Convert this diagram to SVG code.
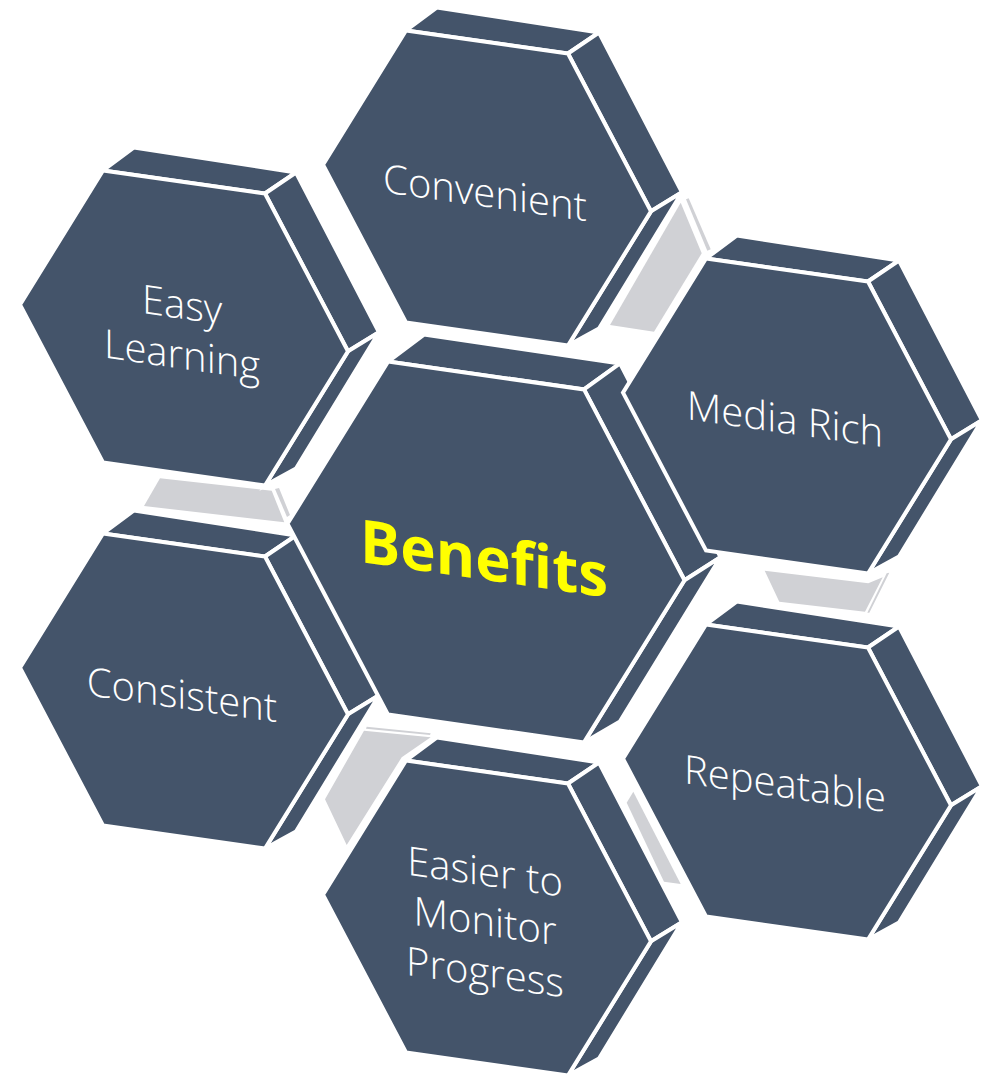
<svg xmlns="http://www.w3.org/2000/svg" width="987" height="1075" viewBox="0 0 987 1075">
<defs>
<style>
.face{fill:#44546A;stroke:#FFFFFF;stroke-width:4;stroke-linejoin:miter}
.gray{fill:#D0D1D5}
.lbl{font-family:"Open Sans","Noto Sans","DejaVu Sans",sans-serif;font-size:40px;font-weight:300;fill:#FFFFFF;text-anchor:middle}
.big{font-family:"Open Sans","Noto Sans","DejaVu Sans",sans-serif;font-size:60px;font-weight:bold;fill:#FFFF00;text-anchor:middle}
</style>
<g id="hexS">
<path class="face" d="M-81,-157.5 L81,-134.5 L112,-155.5 L-50,-180.5 Z"/>
<path class="face" d="M81,-134.5 L164,23.3 L195,4.3 L112,-155.5 Z"/>
<path class="face" d="M164,23.3 L81,157.5 L112,140.5 L195,4.3 Z"/>
<path class="face" d="M-81,-157.5 L81,-134.5 L164,23.3 L81,157.5 L-81,134.5 L-164,-23.3 Z"/>
</g>
<g id="hexL">
<path class="face" d="M-98,-190.4 L98,-162.6 L134,-188.6 L-62,-217.4 Z"/>
<path class="face" d="M98,-162.6 L198.5,28.2 L234.5,5.2 L134,-188.6 Z"/>
<path class="face" d="M198.5,28.2 L98,190.4 L134,169.4 L234.5,5.2 Z"/>
<path class="face" d="M-98,-190.4 L98,-162.6 L198.5,28.2 L98,190.4 L-98,162.6 L-198.5,-28.2 Z"/>
</g>
</defs>
<rect x="0" y="0" width="987" height="1075" fill="#FFFFFF"/>
<g id="connectors">
<polygon class="gray" points="680.7,202.7 610,325 654,331.7 701.7,253.3"/>
<polygon class="gray" points="686,199.3 688.7,198.3 710.7,249.3 707.3,250.7"/>
<polygon class="gray" points="764.7,570.7 779.3,601.7 865,611.7 882.7,577.3 868.3,583.3"/>
<polygon class="gray" points="886.7,573.3 889.3,572.7 869.3,612.7 867.3,612.7"/>
<polygon class="gray" points="633.3,791.7 626.7,802.7 664,881.7 680.7,884"/>
<polygon class="gray" points="364,730.7 430.7,737.3 401.7,757.3 346.7,845 325,799.3"/>
<polygon class="gray" points="366.7,726.7 430.7,733.3 430,735 366,728.7"/>
<polygon class="gray" points="160,478.3 144,506 284.3,522.3 271.7,490.7"/>
<polygon class="gray" points="275,489 279,488 290,515 287,517"/>
</g>
<g id="node-convenient">
<use href="#hexS" x="487" y="188"/>
<text class="lbl" transform="translate(487,188) skewY(8.1)" x="-2" y="19">Convenient</text>
</g>
<g id="node-easy-learning">
<use href="#hexS" x="184" y="328"/>
<text class="lbl" transform="translate(184,328) skewY(8.1)"><tspan x="-2" y="-9">Easy</tspan><tspan x="-2" y="41">Learning</tspan></text>
</g>
<g id="node-consistent">
<use href="#hexS" x="184" y="691"/>
<text class="lbl" transform="translate(184,691) skewY(8.1)" x="-2" y="18">Consistent</text>
</g>
<g id="node-benefits">
<use href="#hexL" x="486" y="552"/>
<text class="big" transform="translate(486,552) skewY(8.1)" x="-2" y="28">Benefits</text>
</g>
<g id="node-media-rich">
<use href="#hexS" x="787" y="416"/>
<text class="lbl" transform="translate(787,416) skewY(8.1)" x="-2" y="17.5">Media Rich</text>
</g>
<g id="node-repeatable">
<use href="#hexS" x="787" y="782"/>
<text class="lbl" transform="translate(787,782) skewY(8.1)" x="-2" y="16">Repeatable</text>
</g>
<g id="node-easier">
<use href="#hexS" x="487" y="918"/>
<text class="lbl" transform="translate(487,918) skewY(8.1)"><tspan x="-2" y="-32">Easier to</tspan><tspan x="-2" y="17.5">Monitor</tspan><tspan x="-2" y="68.5">Progress</tspan></text>
</g>
</svg>
